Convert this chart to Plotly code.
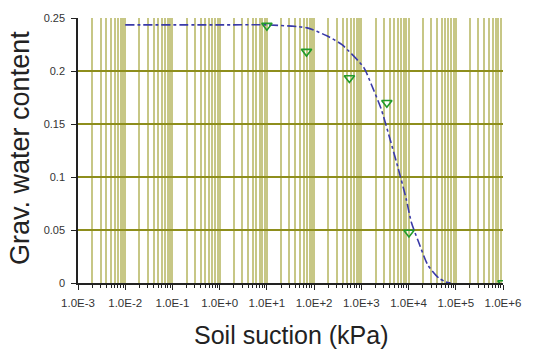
import plotly.graph_objects as go

# Measured gravimetric water content vs. soil suction
suction_meas = [10, 69, 558, 3470, 10200, 1e6]
water_meas = [0.2428, 0.2183, 0.1934, 0.170, 0.0476, 0.0]

# Fitted soil-water characteristic curve
suction_fit = [0.01, 1, 10, 71, 186, 389, 1122, 1622, 2630, 4074, 6026, 8913,
               11500, 15850, 25700, 43650, 60260, 77600]
water_fit = [0.2435, 0.2435, 0.2435, 0.2407, 0.2332, 0.2248, 0.2034, 0.1875,
             0.1642, 0.1353, 0.1082, 0.0793, 0.0570, 0.0401, 0.0168, 0.0047,
             0.0012, 0.0]

# Axis ticks
decades = [1e-3, 1e-2, 1e-1, 1e0, 1e1, 1e2, 1e3, 1e4, 1e5, 1e6]
decade_labels = ["1.0E-3", "1.0E-2", "1.0E-1", "1.0E+0", "1.0E+1",
                 "1.0E+2", "1.0E+3", "1.0E+4", "1.0E+5", "1.0E+6"]
minor_vals = [m * d for d in decades[:-1] for m in range(2, 10)]
y_ticks = [0, 0.05, 0.1, 0.15, 0.2, 0.25]
y_labels = ["0", "0.05", "0.1", "0.15", "0.2", "0.25"]

fig = go.Figure()

fig.add_trace(go.Scatter(
    x=suction_fit, y=water_fit, mode="lines",
    line=dict(color="#3a3aa8", width=1.6, dash="dashdot", shape="spline", smoothing=0.6),
    showlegend=False,
))

fig.add_trace(go.Scatter(
    x=suction_meas, y=water_meas, mode="markers",
    marker=dict(symbol="triangle-down-open", size=9, color="#1f9a2a",
                line=dict(width=1.6, color="#1f9a2a")),
    showlegend=False,
))

grid_v = "rgba(165,165,60,0.62)"

fig.update_xaxes(
    type="log", range=[-3, 6],
    tickmode="array", tickvals=decades, ticktext=decade_labels,
    ticks="outside", ticklen=5, tickwidth=1.2, tickcolor="#222",
    ticklabelstandoff=3,
    showgrid=True, gridcolor=grid_v, gridwidth=1.5,
    minor=dict(tickmode="array", tickvals=minor_vals, ticks="outside", ticklen=3,
               tickwidth=1, tickcolor="#222", showgrid=True,
               gridcolor=grid_v, gridwidth=1.5),
    showline=True, linecolor="#222", linewidth=1.5,
    tickfont=dict(family="Liberation Sans", size=11.5, color="#333"),
    zeroline=False,
)

fig.update_yaxes(
    range=[0, 0.25],
    tickmode="array", tickvals=y_ticks, ticktext=y_labels,
    ticks="outside", ticklen=5, tickwidth=1.2, tickcolor="#222",
    ticklabelstandoff=4,
    showgrid=True, gridcolor="#8e8e1c", gridwidth=2,
    showline=True, linecolor="#222", linewidth=1.5,
    tickfont=dict(family="Liberation Sans", size=11, color="#333"),
    zeroline=False,
)

fig.add_annotation(
    text="Soil suction (kPa)", xref="paper", yref="paper",
    x=0.502, y=-0.198, xanchor="center", yanchor="middle", showarrow=False,
    font=dict(family="Liberation Sans", size=25, color="#222"),
)
fig.add_annotation(
    text="Grav. water content", xref="paper", yref="paper",
    x=-0.138, y=0.511, xanchor="center", yanchor="middle", showarrow=False,
    textangle=-90,
    font=dict(family="Liberation Sans", size=27, color="#222"),
)

fig.update_layout(
    width=533, height=358,
    margin=dict(l=78, r=25, t=15, b=75),
    paper_bgcolor="white", plot_bgcolor="white",
)

fig.write_html("out.html")
